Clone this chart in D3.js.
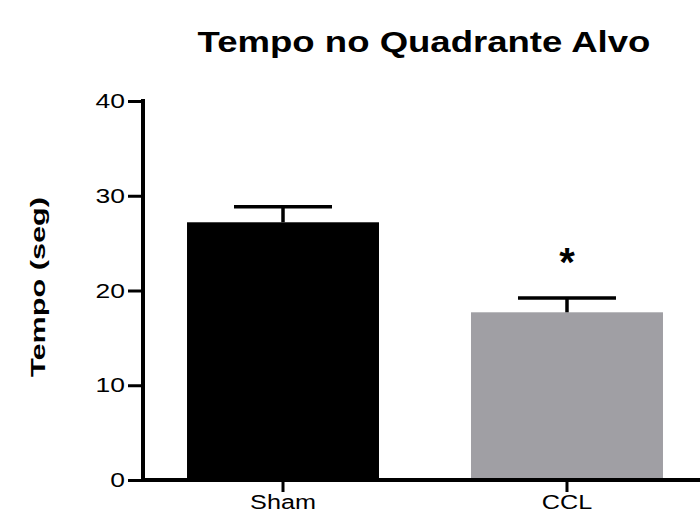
<!DOCTYPE html>
<html>
<head>
<meta charset="utf-8">
<script src="https://cdn.jsdelivr.net/npm/d3@7"></script>
<style>
  body { margin: 0; background: #fff; }
  text { font-family: "Liberation Sans", Arial, sans-serif; fill: #000; }
</style>
</head>
<body>
<div id="chart"></div>
<script>
const groups = ["Sham", "CCL"];
const means = [27.2, 17.7];
const sems = [1.65, 1.5];
const yTicks = [0, 10, 20, 30, 40];
const colors = ["#000000", "#a09fa4"];
const marks = ["", "*"];

const width = 700, height = 512;
const stretch = 1.26; // text in the reference is wider than it is tall

const svg = d3.select("#chart").append("svg")
    .attr("width", width)
    .attr("height", height);

const x = d3.scaleBand()
    .domain(groups)
    .range([143, 707])
    .paddingInner(0.324)
    .paddingOuter(0.155);

const y = d3.scaleLinear()
    .domain([0, 40])
    .range([480, 101]);

const widen = sel => sel.each(function () {
    const w = this.getComputedTextLength();
    d3.select(this)
        .attr("textLength", w * stretch)
        .attr("lengthAdjust", "spacingAndGlyphs");
});

// bars
svg.append("g")
    .selectAll("rect")
    .data(groups)
    .join("rect")
    .attr("x", d => x(d))
    .attr("y", (d, i) => y(means[i]))
    .attr("width", x.bandwidth())
    .attr("height", (d, i) => y(0) - y(means[i]))
    .attr("fill", (d, i) => colors[i]);

// error bars (upper only)
const err = svg.append("g")
    .attr("stroke", "#000")
    .attr("stroke-width", 3.5);

err.selectAll("line.stem")
    .data(groups)
    .join("line")
    .attr("class", "stem")
    .attr("x1", d => x(d) + x.bandwidth() / 2)
    .attr("x2", d => x(d) + x.bandwidth() / 2)
    .attr("y1", (d, i) => y(means[i]))
    .attr("y2", (d, i) => y(means[i] + sems[i]));

err.selectAll("line.cap")
    .data(groups)
    .join("line")
    .attr("class", "cap")
    .attr("x1", d => x(d) + x.bandwidth() / 2 - 49)
    .attr("x2", d => x(d) + x.bandwidth() / 2 + 49)
    .attr("y1", (d, i) => y(means[i] + sems[i]))
    .attr("y2", (d, i) => y(means[i] + sems[i]));

// significance marks
svg.append("g")
    .selectAll("text")
    .data(groups)
    .join("text")
    .attr("x", d => x(d) + x.bandwidth() / 2)
    .attr("y", (d, i) => y(means[i] + sems[i]) - 22)
    .attr("text-anchor", "middle")
    .attr("font-weight", "bold")
    .attr("font-size", 40)
    .text((d, i) => marks[i]);

// y axis
svg.append("g")
    .attr("transform", "translate(143,0)")
    .call(d3.axisLeft(y).tickValues(yTicks).tickSize(15).tickSizeOuter(0).tickPadding(3))
    .call(g => g.select(".domain").attr("stroke-width", 4).attr("d", `M0,${y(0) + 2}V${y(40) - 2}`))
    .call(g => g.selectAll(".tick line").attr("stroke-width", 3))
    .call(g => g.selectAll(".tick text")
        .attr("font-size", 21)
        .attr("fill", "#000")
        .call(widen));

// x axis
svg.append("g")
    .attr("transform", `translate(0,${y(0)})`)
    .call(d3.axisBottom(x).tickSize(12).tickSizeOuter(0).tickPadding(3))
    .call(g => g.select(".domain").attr("stroke-width", 4).attr("d", "M141,0H710"))
    .call(g => g.selectAll(".tick line").attr("stroke-width", 3))
    .call(g => g.selectAll(".tick text")
        .attr("font-size", 20)
        .attr("fill", "#000")
        .call(widen));

// title
svg.append("text")
    .attr("x", 424)
    .attr("y", 52)
    .attr("text-anchor", "middle")
    .attr("font-weight", "bold")
    .attr("font-size", 29)
    .text("Tempo no Quadrante Alvo")
    .call(widen);

// y label
svg.append("text")
    .attr("transform", "translate(45,287) rotate(-90)")
    .attr("text-anchor", "middle")
    .attr("font-weight", "bold")
    .attr("font-size", 20)
    .attr("textLength", 180)
    .attr("lengthAdjust", "spacingAndGlyphs")
    .text("Tempo (seg)");
</script>
</body>
</html>
